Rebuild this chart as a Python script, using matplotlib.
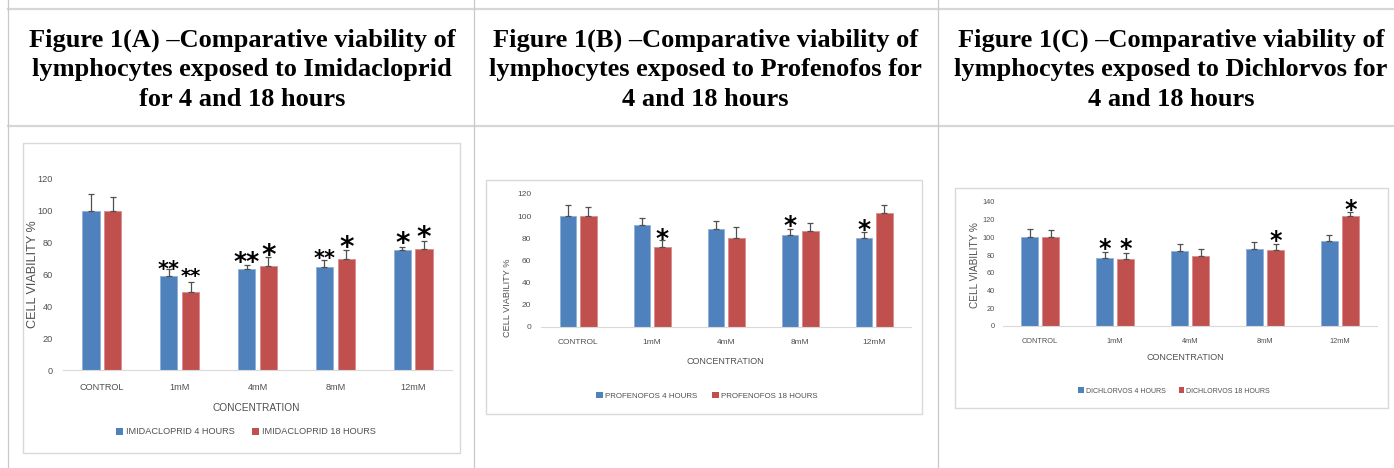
import matplotlib
matplotlib.use('Agg')
import numpy as np
import matplotlib.pyplot as plt
from matplotlib.lines import Line2D
from matplotlib.patches import Rectangle

W, H = 1394, 468
BLUE = '#4F81BD'
RED = '#C0504D'
GREY_TXT = '#505050'
SANS = ['Liberation Sans', 'DejaVu Sans']

categories = ['CONTROL', '1mM', '4mM', '8mM', '12mM']

imi_4h = [100, 59.2, 63.2, 64.9, 75.3]
imi_18h = [100, 48.8, 65.5, 69.9, 76.1]
imi_4h_err = [10.5, 4.0, 3.0, 4.0, 2.0]
imi_18h_err = [8.4, 6.6, 5.2, 5.4, 5.0]

pro_4h = [100, 91.7, 88.0, 82.6, 80.2]
pro_18h = [100, 72.0, 79.9, 86.5, 103.0]
pro_4h_err = [10.3, 6.3, 7.8, 5.4, 5.1]
pro_18h_err = [8.5, 6.4, 10.2, 7.0, 7.0]

dic_4h = [100, 77.0, 84.5, 86.8, 95.8]
dic_18h = [100, 75.2, 78.9, 85.3, 124.4]
dic_4h_err = [9.7, 6.8, 7.9, 8.2, 6.8]
dic_18h_err = [8.6, 7.4, 7.5, 7.1, 4.5]

# significance marks: category index, series (0 = 4h, 1 = 18h), text, y centre
imi_star_cat = [1, 1, 2, 2, 3, 3, 4, 4]
imi_star_ser = [0, 1, 0, 1, 0, 1, 0, 1]
imi_star_txt = ['**', '**', '**', '*', '**', '*', '*', '*']
imi_star_y = [66.5, 62.3, 72.2, 76.4, 73.2, 81.6, 83.7, 87.4]

pro_star_cat = [1, 3, 4]
pro_star_ser = [1, 0, 0]
pro_star_txt = ['*', '*', '*']
pro_star_y = [85.6, 97.0, 93.5]

dic_star_cat = [1, 1, 3, 4]
dic_star_ser = [0, 1, 1, 1]
dic_star_txt = ['*', '*', '*', '*']
dic_star_y = [93.6, 93.6, 103.0, 138.0]

titles = [
    'Figure 1(A) \u2013Comparative viability of\nlymphocytes exposed to Imidacloprid\nfor 4 and 18 hours',
    'Figure 1(B) \u2013Comparative viability of\nlymphocytes exposed to Profenofos for\n4 and 18 hours',
    'Figure 1(C) \u2013Comparative viability of\nlymphocytes exposed to Dichlorvos for\n4 and 18 hours',
]


def fx(px):
    return px / W


def fy(py):
    return 1 - py / H


fig = plt.figure(figsize=(W / 100, H / 100), dpi=100)
fig.patch.set_facecolor('white')

# table grid
for y in (9, 126):
    fig.add_artist(Line2D([fx(8), 1], [fy(y), fy(y)], color='#d6d6d6', lw=1.6))
for x in (8, 473.5, 938):
    fig.add_artist(Line2D([fx(x), fx(x)], [0, 1], color='#c8c8c8', lw=0.9))

for t, cx in zip(titles, (242, 705.5, 1171)):
    fig.text(fx(cx), fy(69.5), t, ha='center', va='center', family='Liberation Serif',
             weight='bold', fontsize=19, linespacing=1.37)


def draw_panel(box, rect, ymax, v4, v18, e4, e18, s_cat, s_ser, s_txt, s_y, s_size,
               names, fs, pads, ylab, xlab, leg):
    # chart frame
    fig.add_artist(Rectangle((fx(box[0]), fy(box[3])), fx(box[2] - box[0]),
                             (box[3] - box[1]) / H, fill=False, ec='#d9d9d9', lw=1.0))
    x0, x1, y0, ytop = rect
    ax = fig.add_axes([fx(x0), fy(y0), fx(x1 - x0), (y0 - ytop) / H])
    x = np.arange(len(categories))
    w = 0.22
    z = np.zeros(len(x))
    ekw = dict(ecolor='#505050', elinewidth=0.9, capsize=2, capthick=0.9)
    b1 = ax.bar(x - 0.14, v4, w, color=BLUE, ec='#8fb0d8', lw=0.6,
                yerr=[z, e4], error_kw=ekw, label=names[0])
    b2 = ax.bar(x + 0.14, v18, w, color=RED, ec='#d88c8a', lw=0.6,
                yerr=[z, e18], error_kw=ekw, label=names[1])
    ax.set_xlim(-0.5, len(x) - 0.5)
    ax.set_ylim(0, ymax)
    ax.set_yticks(np.arange(0, ymax + 1, 20))
    ax.set_xticks(x)
    ax.set_xticklabels(categories)
    for s in ('left', 'right', 'top'):
        ax.spines[s].set_visible(False)
    ax.spines['bottom'].set_color('#d9d9d9')
    ax.tick_params(length=0, colors=GREY_TXT, labelsize=fs)
    ax.tick_params(axis='y', pad=pads[0])
    ax.tick_params(axis='x', pad=pads[1])
    for lab in ax.get_xticklabels() + ax.get_yticklabels():
        lab.set_family(SANS)
    ax.set_facecolor('none')

    for c, sr, tx, yy, sz in zip(s_cat, s_ser, s_txt, s_y, s_size):
        xx = c - 0.14 if sr == 0 else c + 0.14
        ax.annotate(tx, xy=(xx, yy), xytext=(0, -0.56 * sz), textcoords='offset points',
                    ha='center', va='baseline', fontsize=sz, family='DejaVu Sans',
                    weight='bold', annotation_clip=False)

    fig.text(fx(ylab[0]), fy(ylab[1]), 'CELL VIABILITY %', rotation=90,
             ha='center', va='center', color=GREY_TXT, fontsize=ylab[2], family=SANS)
    fig.text(fx(xlab[0]), fy(xlab[1]), 'CONCENTRATION', ha='center', va='center',
             color=GREY_TXT, fontsize=xlab[2], family=SANS)
    lg = ax.legend(handles=[b1, b2], loc='center', bbox_to_anchor=(fx(leg[0]), fy(leg[1])),
                   bbox_transform=fig.transFigure, ncol=2, frameon=False,
                   handlelength=0.8, handleheight=0.8, handletextpad=0.3, columnspacing=1.9,
                   prop=dict(family=SANS, size=leg[2]))
    for t in lg.get_texts():
        t.set_color(GREY_TXT)
    for h in lg.legend_handles:
        h.set_linewidth(0)
    return ax


draw_panel((23, 143, 460, 453), (63, 452, 370, 179), 120,
           imi_4h, imi_18h, imi_4h_err, imi_18h_err,
           imi_star_cat, imi_star_ser, imi_star_txt, imi_star_y,
           [15, 14, 18, 20, 15, 20, 20, 20],
           ['IMIDACLOPRID 4 HOURS', 'IMIDACLOPRID 18 HOURS'], 6.6, (7.2, 9.6),
           (33, 274, 9.1), (256, 408, 7.3), (246, 432, 6.6))

draw_panel((486, 180, 922, 414), (541, 911, 326.7, 194), 120,
           pro_4h, pro_18h, pro_4h_err, pro_18h_err,
           pro_star_cat, pro_star_ser, pro_star_txt, pro_star_y,
           [18, 18, 18],
           ['PROFENOFOS 4 HOURS', 'PROFENOFOS 18 HOURS'], 6.0, (6.9, 8.9),
           (508, 298, 6.6), (725.5, 362, 6.5), (707, 396, 5.7))

draw_panel((955, 188, 1388, 408), (1002.5, 1377.5, 326, 201.8), 140,
           dic_4h, dic_18h, dic_4h_err, dic_18h_err,
           dic_star_cat, dic_star_ser, dic_star_txt, dic_star_y,
           [17, 17, 17, 17],
           ['DICHLORVOS 4 HOURS', 'DICHLORVOS 18 HOURS'], 5.3, (5.6, 8.9),
           (975, 265, 7.2), (1185, 358, 6.5), (1174, 391, 5.0))

fig.savefig('out.png', dpi=100)
